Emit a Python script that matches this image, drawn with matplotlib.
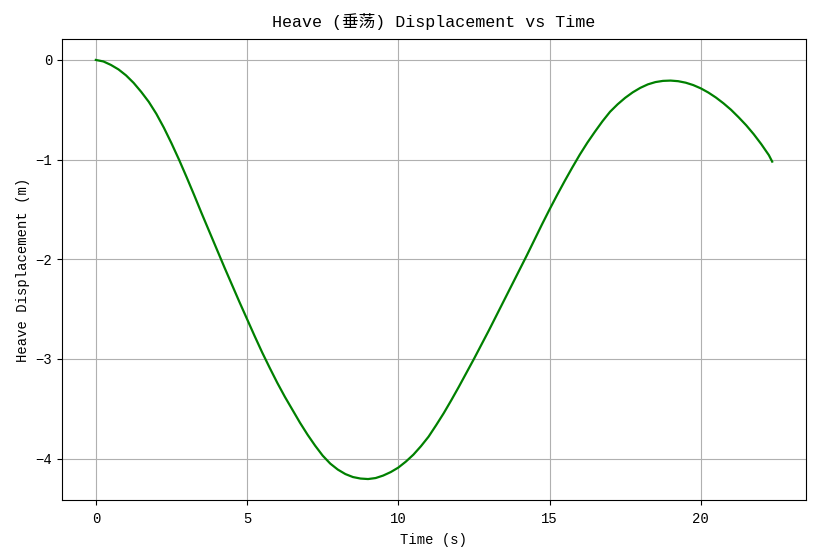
import matplotlib
matplotlib.use("Agg")
import matplotlib.pyplot as plt

plt.rcParams['font.family'] = ['Liberation Mono', 'Noto Sans CJK SC', 'DejaVu Sans']
plt.rcParams['axes.unicode_minus'] = True

time_s = [0, 0.25, 0.5, 0.75, 1, 1.25, 1.5, 1.75, 2, 2.25, 2.5, 2.75, 3, 3.25,
          3.5, 3.75, 4, 4.25, 4.5, 4.75, 5, 5.25, 5.5, 5.75, 6, 6.25, 6.5, 6.75,
          7, 7.25, 7.5, 7.75, 8, 8.25, 8.5, 8.75, 9, 9.25, 9.5, 9.75, 10, 10.25,
          10.5, 10.75, 11, 11.25, 11.5, 11.75, 12, 12.25, 12.5, 12.75, 13, 13.25,
          13.5, 13.75, 14, 14.25, 14.5, 14.75, 15, 15.25, 15.5, 15.75, 16, 16.25,
          16.5, 16.75, 17, 17.25, 17.5, 17.75, 18, 18.25, 18.5, 18.75, 19, 19.25,
          19.5, 19.75, 20, 20.25, 20.5, 20.75, 21, 21.25, 21.5, 21.75, 22, 22.25,
          22.36]
heave_m = [0.0, -0.015, -0.05, -0.095, -0.155, -0.23, -0.32, -0.42, -0.54, -0.68,
           -0.835, -1.00, -1.175, -1.355, -1.54, -1.72, -1.90, -2.08, -2.255, -2.43,
           -2.60, -2.77, -2.935, -3.09, -3.24, -3.38, -3.51, -3.64, -3.76, -3.87,
           -3.97, -4.05, -4.11, -4.155, -4.185, -4.20, -4.205, -4.195, -4.17, -4.135,
           -4.09, -4.03, -3.96, -3.875, -3.78, -3.665, -3.545, -3.415, -3.28, -3.14,
           -3.00, -2.855, -2.71, -2.56, -2.41, -2.26, -2.11, -1.96, -1.805, -1.65,
           -1.50, -1.355, -1.215, -1.08, -0.95, -0.83, -0.72, -0.615, -0.52, -0.445,
           -0.38, -0.325, -0.28, -0.245, -0.222, -0.21, -0.207, -0.213, -0.228, -0.252,
           -0.285, -0.327, -0.377, -0.435, -0.50, -0.575, -0.655, -0.745, -0.845, -0.955,
           -1.02]

title = "Heave (垂荡) Displacement vs Time"
xlabel = "Time (s)"
ylabel = "Heave Displacement (m)"

fig = plt.figure(figsize=(8.17, 5.58), dpi=100)
ax = fig.add_axes([62/817, (558-500)/558, (806-62)/817, (500-39)/558])
ax.plot(time_s, heave_m, color='green', linewidth=1.6)
ax.set_title(title, fontsize=12, pad=8.5)
ax.set_xlabel(xlabel, labelpad=5)
ax.set_ylabel(ylabel)
ax.tick_params(axis='x', pad=5)
ax.grid(True)
fig.savefig("out.png", dpi=100)
